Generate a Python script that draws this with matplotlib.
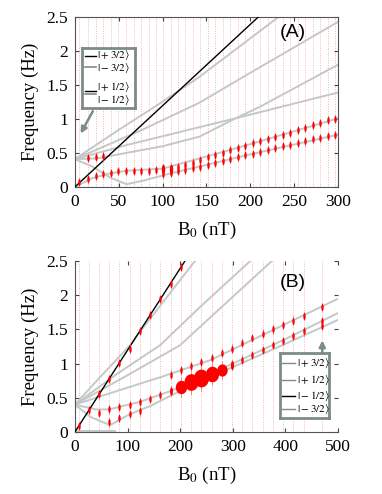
import numpy as np
import matplotlib
matplotlib.use('Agg')
import matplotlib.pyplot as plt
from matplotlib.path import Path

plt.rcParams['font.family'] = ['Liberation Serif', 'DejaVu Serif']
plt.rcParams['mathtext.fontset'] = 'stix'

# ---------------- panel A data (B0 in nT, frequency in Hz) ----------------
a_cols = [5, 15, 24, 32, 41, 49, 58, 67, 75, 84, 92, 101, 109, 118, 126, 135, 143, 152,
          160, 169, 177, 186, 194, 203, 211, 220, 228, 237, 245, 254, 262, 271, 279, 288, 296]

a_black = [(0, 0.0), (209, 2.5)]
a_gray = [
    [(0, 0.41), (50, 0.84), (97, 1.23), (142, 1.62), (232, 2.5)],
    [(0, 0.41), (75, 0.83), (142, 1.24), (200, 1.68), (300, 2.43)],
    [(0, 0.41), (25, 0.42), (50, 0.48), (100, 0.6), (142, 0.74), (180, 0.99), (211, 1.18), (300, 1.80)],
    [(0, 0.41), (60, 0.62), (142, 0.88), (180, 1.0), (300, 1.39)],
    [(0, 0.0), (20, 0.13), (40, 0.2), (60, 0.24), (100, 0.27), (142, 0.42), (200, 0.63), (300, 1.01)],
    [(0, 0.41), (20, 0.3), (40, 0.14), (59, 0.04), (80, 0.1), (112, 0.21), (142, 0.3), (200, 0.48), (300, 0.77)],
]

# red points, upper trail
a_up_x = a_cols
a_up_y = [0.07, 0.12, 0.16, 0.19, 0.21, 0.23, 0.23, 0.24, 0.24, 0.24, 0.25, 0.26, 0.27, 0.29,
          0.32, 0.36, 0.40, 0.44, 0.47, 0.50, 0.54, 0.57, 0.60, 0.64, 0.67, 0.70, 0.74, 0.77,
          0.80, 0.84, 0.87, 0.91, 0.94, 0.98, 1.00]
a_up_s = [1, 1, 1, 1, 1, 1, 1, 1, 1, 1, 1, 1.4, 1.4, 1, 1, 1, 1, 1,
          1, 1, 1, 1, 1, 1, 1, 1, 1, 1, 1, 1, 1, 1, 1, 1, 1]
# red points, lower trail
a_lo_x = a_cols[11:]
a_lo_y = [0.19, 0.21, 0.23, 0.25, 0.28, 0.30, 0.33, 0.36, 0.38, 0.41, 0.44, 0.47, 0.49, 0.52,
          0.54, 0.57, 0.60, 0.62, 0.65, 0.67, 0.70, 0.72, 0.75, 0.77]
# red points near 0.4 at low field
a_hi_x = [15, 24, 32]
a_hi_y = [0.43, 0.44, 0.46]

# ---------------- panel B data ----------------
b_cols = [7, 26, 45, 65, 84, 104, 123, 143, 162, 182, 201, 221, 240, 260, 279, 298, 318,
          337, 357, 376, 396, 415, 435, 470]

b_black = [(0, 0.0), (209, 2.5)]
b_gray = [
    [(0, 0.4), (50, 0.82), (105, 1.27), (117, 1.4), (228, 2.5)],
    [(0, 0.4), (80, 0.85), (162, 1.27), (238, 1.83), (333, 2.5)],
    [(0, 0.4), (100, 0.83), (200, 1.27), (238, 1.54), (374, 2.5)],
    [(0, 0.4), (80, 0.6), (162, 0.8), (257, 1.05), (500, 1.95)],
    [(0, 0.4), (40, 0.33), (65, 0.33), (123, 0.44), (182, 0.6), (240, 0.8), (300, 1.0), (400, 1.36), (500, 1.74)],
    [(0, 0.4), (30, 0.22), (67, 0.1), (104, 0.26), (143, 0.38), (200, 0.6), (260, 0.82), (300, 0.95), (400, 1.29), (500, 1.64)],
    [(0, 0.01), (76, 0.01)],
]

b_blk_x = b_cols[:11]
b_blk_y = [0.09, 0.32, 0.55, 0.78, 1.01, 1.22, 1.48, 1.71, 1.94, 2.17, 2.41]
b_up_x = b_cols[9:]
b_up_y = [0.84, 0.90, 0.96, 1.02, 1.08, 1.15, 1.22, 1.30, 1.37, 1.44, 1.50, 1.56, 1.63, 1.70, 1.83]
b_mid_x = b_cols[2:]
b_mid_y = [0.28, 0.33, 0.36, 0.40, 0.44, 0.48, 0.54, 0.60, 0.66, 0.73, 0.79, 0.85, 0.91,
           0.98, 1.06, 1.13, 1.20, 1.27, 1.33, 1.40, 1.47, 1.62]
b_mid_s = [1, 1, 1, 1, 1, 1, 1, 1.2, 2.4, 3.0, 3.2, 2.8, 2.2, 1.3, 1, 1, 1, 1, 1, 1, 1, 1]
b_lo_x = [65, 84, 104, 123, 470]
b_lo_y = [0.14, 0.20, 0.26, 0.30, 1.55]

GRAY = '#c3c8c8'
PINK = '#f7b3b3'
t = np.linspace(0, 2 * np.pi, 40)
tall = Path(np.column_stack([0.35 * np.cos(t), np.sin(t)]), closed=True)
oval = Path(np.column_stack([0.85 * np.cos(t), np.sin(t)]), closed=True)


def draw_panel(ax, cols, black, grays, xmax):
    for c in cols:
        ax.axvline(c, color=PINK, lw=0.7, ls=(0, (1, 1.5)), zorder=0)
    for g in grays:
        gx, gy = zip(*g)
        ax.plot(gx, gy, color=GRAY, lw=1.4, zorder=2)
    bx, by = zip(*black)
    ax.plot(bx, by, color='black', lw=1.0, zorder=3)
    ax.set_xlim(0, xmax)
    ax.set_ylim(0, 2.5)
    ax.set_yticks([0, 0.5, 1, 1.5, 2, 2.5])
    ax.set_yticklabels(['0', '0.5', '1', '1.5', '2', '2.5'])
    ax.tick_params(direction='in', length=3, labelsize=12.5, top=True, right=True,
                   color='#444444', pad=5)
    ax.set_xlabel('B$_0$ (nT)', fontsize=13.5, labelpad=7)
    ax.set_ylabel('Frequency (Hz)', fontsize=13.5, labelpad=5)


def red(ax, xs, ys, sizes=None, ms=5):
    if sizes is None:
        sizes = [1] * len(xs)
    for x, y, s in zip(xs, ys, sizes):
        ax.plot([x, x], [y - 0.06 * s, y + 0.06 * s], color='#ff5a5a', lw=0.5, zorder=4)
        if s < 1.5:
            ax.plot(x, y, marker=tall, ms=ms * s, color='red', mec='none', zorder=5)
        else:
            ax.plot(x, y, marker=oval, ms=4.0 * s, color='red', mec='none', zorder=5)


fig = plt.figure(figsize=(3.82, 4.94), dpi=100)
ax1 = fig.add_axes([0.196, 0.6215, 0.689, 0.344])
ax2 = fig.add_axes([0.196, 0.1255, 0.689, 0.346])

# panel A
draw_panel(ax1, a_cols, a_black, a_gray, 300)
ax1.set_xticks([0, 50, 100, 150, 200, 250, 300])
red(ax1, a_up_x, a_up_y, a_up_s)
red(ax1, a_lo_x, a_lo_y)
red(ax1, a_hi_x, a_hi_y)
for s in ax1.spines.values():
    s.set_color('#555555')
    s.set_linewidth(0.8)
ax1.text(0.78, 0.88, '(A)', transform=ax1.transAxes, fontsize=14, family='Liberation Sans')

# legend box A
leg1 = fig.add_axes([82 / 382, 1 - 108 / 494, 53 / 382, 60 / 494])
leg1.set_xlim(0, 53)
leg1.set_ylim(60, 0)
leg1.set_xticks([])
leg1.set_yticks([])
for s in leg1.spines.values():
    s.set_color('#7d8a8a')
    s.set_linewidth(2)
leg1.text(15, 14, '$|+3/2\\rangle$\n$|-3/2\\rangle$', fontsize=8, va='center', linespacing=0.95)
leg1.text(15, 46, '$|+1/2\\rangle$\n$|-1/2\\rangle$', fontsize=8, va='center', linespacing=0.95)
leg1.plot([3, 14], [8, 8], color='black', lw=1.0)
leg1.plot([3, 14], [19, 19], color='#888888', lw=1.2)
leg1.plot([3, 14], [43, 43], color='black', lw=1.0)
leg1.plot([3, 14], [46, 46], color='#888888', lw=1.2)
ax1.annotate('', xy=(5, 0.75), xytext=(22, 1.15),
             arrowprops=dict(arrowstyle='-|>', color='#7d8a8a', lw=1.8, mutation_scale=9))

# panel B
draw_panel(ax2, b_cols, b_black, b_gray, 500)
ax2.set_xticks([0, 100, 200, 300, 400, 500])
red(ax2, b_blk_x, b_blk_y)
red(ax2, b_up_x, b_up_y)
red(ax2, b_mid_x, b_mid_y, b_mid_s)
red(ax2, b_lo_x, b_lo_y)
ax2.spines['top'].set_visible(False)
ax2.spines['right'].set_visible(False)
for s in ['left', 'bottom']:
    ax2.spines[s].set_color('#555555')
    ax2.spines[s].set_linewidth(0.8)
ax2.text(0.78, 0.85, '(B)', transform=ax2.transAxes, fontsize=14, family='Liberation Sans')

# legend box B
leg2 = fig.add_axes([280 / 382, 1 - 418 / 494, 49 / 382, 65 / 494])
leg2.set_xlim(0, 49)
leg2.set_ylim(65, 0)
leg2.set_xticks([])
leg2.set_yticks([])
for s in leg2.spines.values():
    s.set_color('#7d8a8a')
    s.set_linewidth(2)
for yy, col, lab in [(10, '#888888', r'$|+3/2\rangle$'), (27, '#888888', r'$|+1/2\rangle$'),
                     (43, 'black', r'$|-1/2\rangle$'), (56, '#888888', r'$|-3/2\rangle$')]:
    leg2.plot([2, 15], [yy, yy], color=col, lw=1.0)
    leg2.text(17, yy, lab, fontsize=8, va='center')
ax2.annotate('', xy=(470, 1.38), xytext=(470, 1.1),
             arrowprops=dict(arrowstyle='-|>', color='#7d8a8a', lw=1.8, mutation_scale=9))

fig.savefig('out.png', dpi=100)
